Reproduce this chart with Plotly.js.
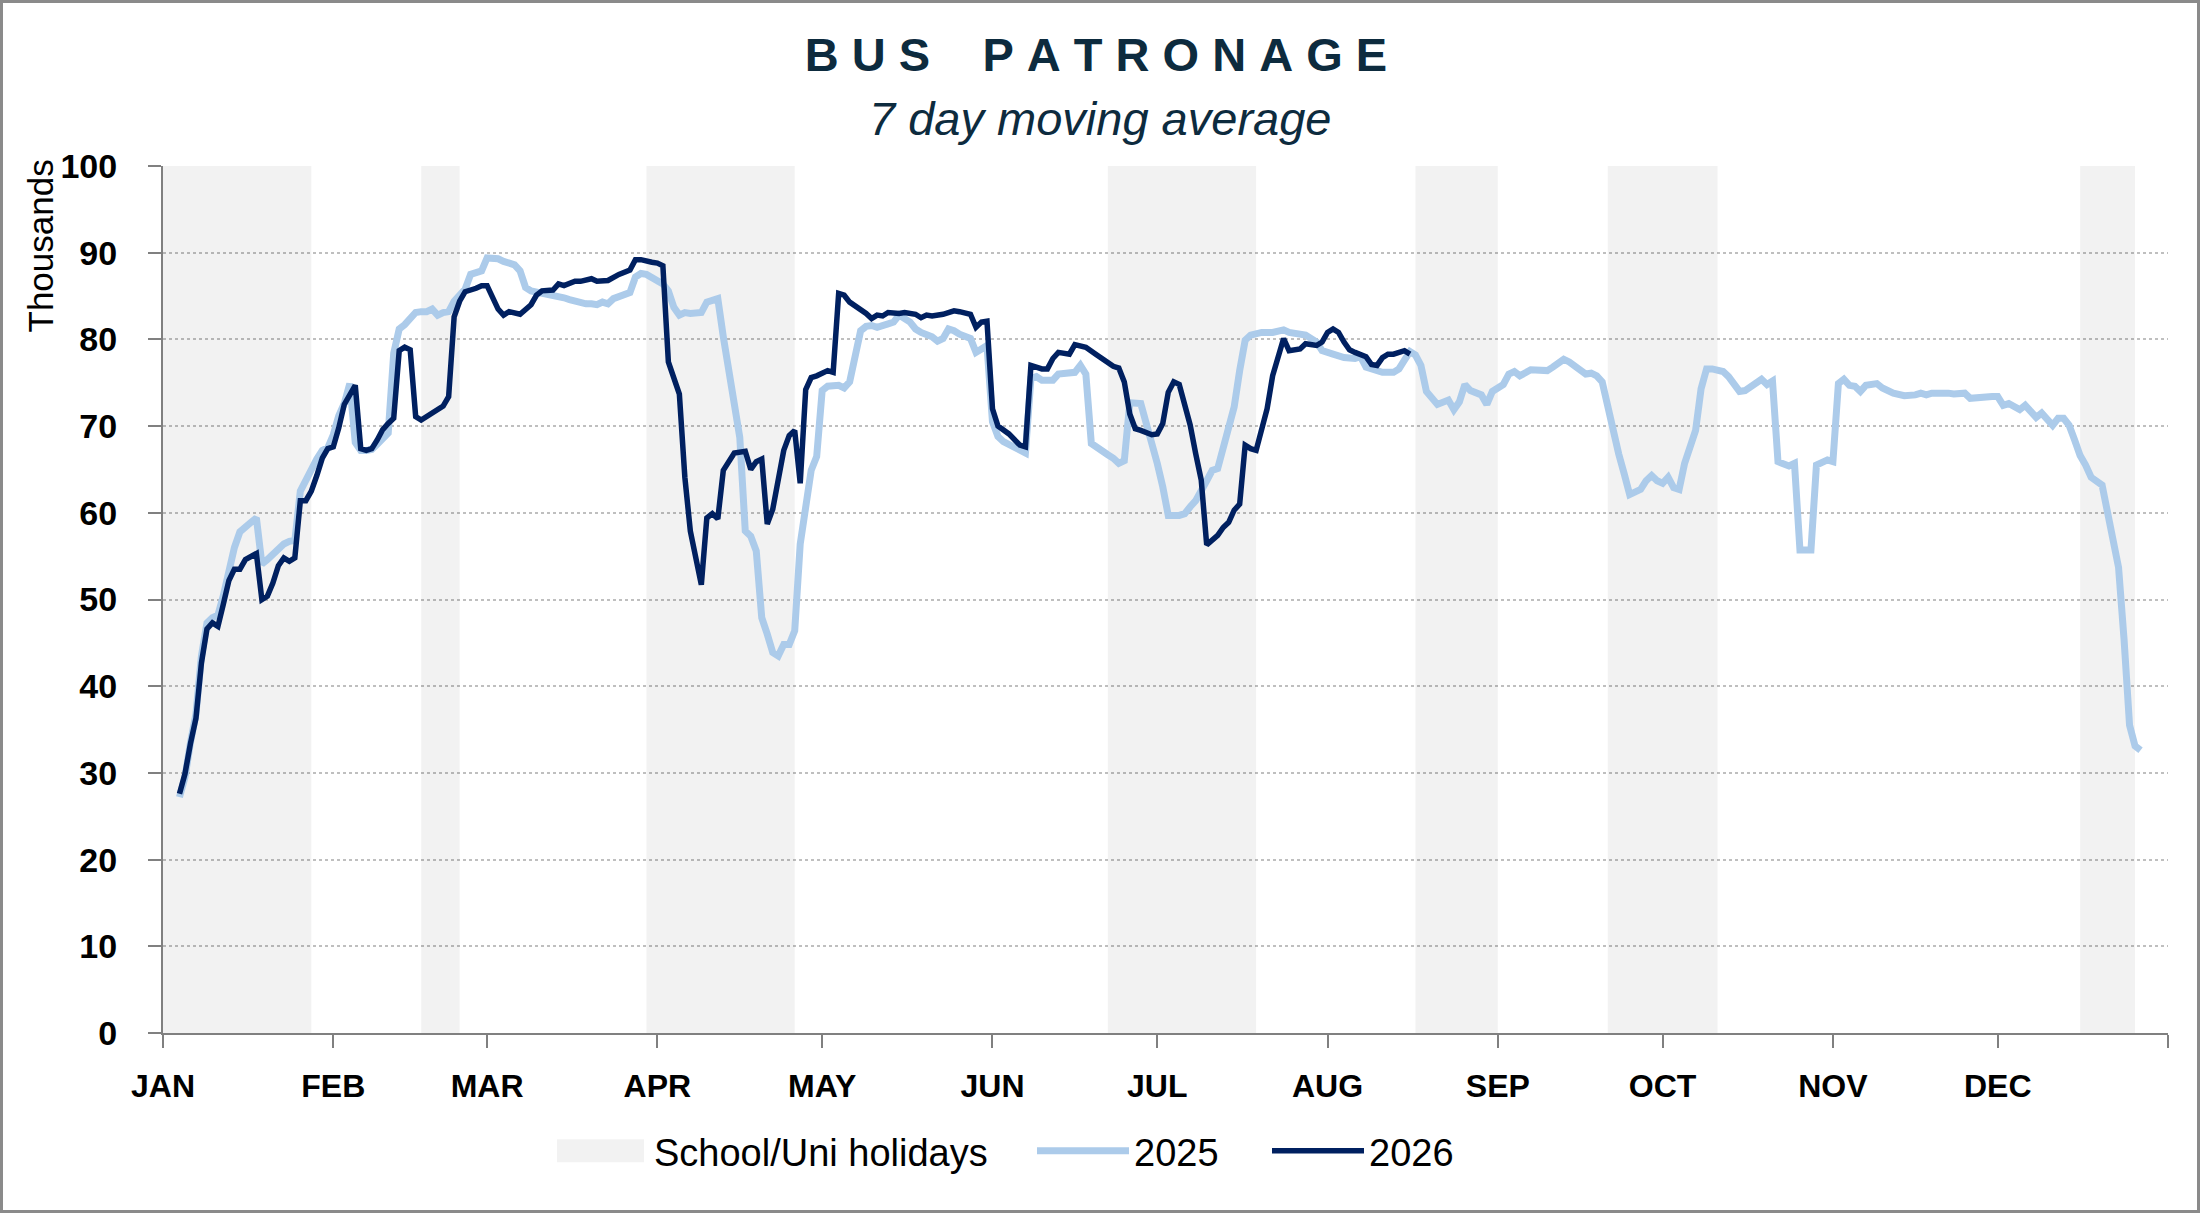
<!DOCTYPE html>
<html>
<head>
<meta charset="utf-8">
<script src="https://cdn.plot.ly/plotly-3.0.1.min.js"></script>
<style>
  html, body { margin: 0; padding: 0; background: #ffffff; }
  #wrap { position: relative; width: 2200px; height: 1213px; }
  #chart { width: 2200px; height: 1213px; }
  #frame { position: absolute; left: 0; top: 0; width: 2200px; height: 1213px;
           box-sizing: border-box; border: 3px solid #8a8a8a; pointer-events: none; }
</style>
</head>
<body>
<div id="wrap"><div id="chart"></div><div id="frame"></div></div>
<script>
// ---- data (day offset from 1 Jan, thousands of passengers, 7-day moving average) ----
const monthLabels = ["JAN","FEB","MAR","APR","MAY","JUN","JUL","AUG","SEP","OCT","NOV","DEC"];
const monthStartDays = [0,31,59,90,120,151,181,212,243,273,304,334,365];

const holidayStartDays = [0, 47, 88, 172, 228, 263, 349];
const holidayEndDays   = [27, 54, 115, 199, 243, 283, 359];

const series2025 = [
 [3,27.2],[4,29.5],[5,33.5],[6,36.8],[7,43.5],[8,47.3],[9,47.9],[10,48.2],[11,50.5],[12,53.5],
 [13,56.0],[14,57.8],[15,58.5],[16,58.9],[17,59.4],[18,54.1],[19,54.6],[20,55.2],[21,55.8],[22,56.4],
 [23,56.7],[24,56.8],[25,62.5],[26,63.8],[27,64.8],[28,66.2],[29,67.2],[30,67.5],[31,69.0],[32,71.2],
 [33,72.6],[34,74.9],[35,68.1],[36,67.2],[37,67.2],[38,67.3],[39,67.9],[40,68.6],[41,69.2],[42,78.4],
 [43,81.2],[44,81.7],[45,82.5],[46,83.1],[47,83.2],[48,83.2],[49,83.5],[50,82.8],[51,83.1],[52,83.2],
 [53,84.4],[54,85.0],[55,85.8],[56,87.5],[57,87.7],[58,87.9],[59,89.4],[60,89.4],[61,89.3],[62,89.0],
 [63,88.8],[64,88.6],[65,87.9],[66,86.0],[67,85.6],[68,85.5],[69,85.3],[70,85.2],[71,85.1],[72,85.0],
 [73,84.8],[74,84.6],[75,84.4],[76,84.2],[77,84.1],[78,84.1],[79,84.0],[80,84.3],[81,84.1],[82,84.7],
 [83,85.0],[84,85.3],[85,85.4],[86,87.2],[87,87.6],[88,87.5],[89,87.2],[90,86.8],[91,86.4],[92,85.6],
 [93,83.7],[94,82.8],[95,83.1],[96,83.0],[97,83.1],[98,83.1],[99,84.3],[100,84.4],[101,84.7],[102,80.3],
 [104,72.9],[105,68.7],[106,57.9],[107,57.3],[108,55.6],[109,47.9],[110,46.0],[111,43.9],[112,43.5],[113,44.8],
 [114,44.8],[115,46.4],[116,56.4],[117,61.0],[118,64.9],[119,66.5],[120,74.1],[121,74.6],[123,74.7],[124,74.4],
 [125,75.1],[127,81.0],[128,81.5],[129,81.6],[130,81.4],[132,81.8],[133,82.0],[134,82.8],[136,82.0],[137,81.2],
 [138,80.8],[140,80.3],[141,79.8],[142,80.1],[143,81.2],[144,81.0],[145,80.6],[147,80.1],[148,78.5],[149,78.9],
 [150,79.3],[151,70.5],[152,68.8],[153,68.2],[154,67.9],[155,67.5],[156,67.2],[157,66.9],[158,75.5],[159,75.7],
 [160,75.3],[162,75.3],[163,76.0],[164,76.0],[166,76.2],[167,77.0],[168,76.0],[169,68.0],[170,67.5],[171,67.0],
 [172,66.7],[173,66.3],[174,65.7],[175,66.0],[176,72.7],[178,72.6],[179,70.5],[180,67.8],[181,65.7],[182,63.0],
 [183,59.7],[185,59.7],[186,59.9],[187,60.7],[188,61.4],[190,63.7],[191,64.9],[192,65.1],[193,67.6],[195,72.2],
 [196,76.4],[197,79.9],[198,80.5],[200,80.8],[202,80.8],[204,81.1],[205,80.8],[208,80.5],[210,79.7],[211,78.7],
 [213,78.3],[215,77.9],[217,77.8],[218,78.0],[219,76.8],[221,76.4],[222,76.2],[224,76.2],[225,76.6],[226,77.6],
 [227,78.6],[228,78.2],[229,77.0],[230,74.0],[231,73.2],[232,72.5],[234,73.0],[235,71.9],[236,72.8],[237,74.8],
 [238,74.1],[240,73.6],[241,72.5],[242,74.0],[244,74.8],[245,76.0],[246,76.3],[247,75.8],[249,76.5],[251,76.5],
 [252,76.4],[253,76.8],[255,77.7],[256,77.4],[257,76.9],[259,76.0],[260,76.1],[261,75.8],[262,75.1],[263,72.1],
 [264,68.9],[265,66.8],[266,64.5],[267,62.1],[269,62.7],[270,63.7],[271,64.3],[272,63.7],[273,63.4],[274,64.1],
 [275,62.9],[276,62.7],[277,65.7],[279,69.5],[280,74.3],[281,76.6],[282,76.6],[284,76.3],[285,75.7],[286,74.8],
 [287,74.0],[288,74.1],[290,74.9],[291,75.4],[292,74.8],[293,75.2],[294,65.9],[296,65.4],[297,65.7],[298,55.7],
 [300,55.7],[301,65.5],[303,66.1],[304,65.9],[305,74.9],[306,75.4],[307,74.7],[308,74.6],[309,74.0],[310,74.7],
 [312,74.9],[313,74.4],[315,73.8],[317,73.5],[319,73.6],[320,73.8],[321,73.6],[322,73.8],[325,73.8],[326,73.7],
 [328,73.8],[329,73.2],[333,73.4],[334,73.4],[335,72.4],[336,72.6],[338,71.9],[339,72.4],[341,71.0],[342,71.5],
 [344,70.1],[345,70.9],[346,70.9],[347,70.1],[348,68.4],[349,66.6],[350,65.5],[351,64.1],[353,63.2],[354,60.2],
 [355,57.3],[356,53.7],[357,45.4],[358,35.5],[359,33.1],[360,32.6]
];

const series2026 = [
 [3,27.6],[4,29.9],[5,33.4],[6,36.3],[7,42.7],[8,46.6],[9,47.3],[10,46.9],[11,49.5],[12,52.2],
 [13,53.5],[14,53.5],[15,54.6],[17,55.3],[18,50.0],[19,50.4],[20,51.9],[21,53.9],[22,54.8],[23,54.4],
 [24,54.8],[25,61.4],[26,61.4],[27,62.5],[28,64.3],[29,66.3],[30,67.4],[31,67.6],[32,69.8],[33,72.5],
 [35,74.7],[36,67.4],[37,67.2],[38,67.4],[39,68.4],[40,69.6],[41,70.3],[42,70.9],[43,78.7],[44,79.1],
 [45,78.8],[46,71.1],[47,70.7],[48,71.1],[49,71.5],[51,72.3],[52,73.4],[53,82.6],[54,84.4],[55,85.5],
 [57,85.9],[58,86.2],[59,86.2],[61,83.5],[62,82.8],[63,83.2],[65,82.9],[67,84.0],[68,85.1],[69,85.6],
 [71,85.7],[72,86.4],[73,86.2],[75,86.7],[76,86.7],[78,87.0],[79,86.7],[81,86.8],[83,87.5],[84,87.7],
 [85,88.0],[86,89.2],[87,89.2],[89,88.9],[90,88.8],[91,88.5],[92,77.4],[94,73.7],[95,64.1],[96,57.9],
 [98,51.7],[99,59.4],[100,59.9],[101,59.3],[102,64.9],[104,66.9],[106,67.1],[107,65.0],[108,65.9],[109,66.2],
 [110,58.7],[111,60.4],[113,67.2],[114,68.9],[115,69.5],[116,63.4],[117,74.2],[118,75.6],[119,75.8],[121,76.4],
 [122,76.2],[123,85.3],[124,85.1],[125,84.3],[126,83.9],[128,83.0],[129,82.4],[130,82.8],[131,82.7],[132,83.1],
 [134,83.0],[135,83.1],[137,82.9],[138,82.5],[139,82.8],[140,82.7],[142,82.9],[144,83.3],[145,83.2],[146,83.0],
 [147,82.9],[148,81.4],[149,82.0],[150,82.1],[151,72.0],[152,70.0],[154,69.1],[156,67.8],[157,67.6],[158,77.0],
 [160,76.6],[161,76.6],[162,77.8],[163,78.5],[165,78.3],[166,79.4],[168,79.1],[170,78.2],[172,77.4],[173,76.9],
 [174,76.7],[175,75.1],[176,71.4],[177,69.7],[178,69.5],[180,69.0],[181,69.1],[182,70.3],[183,73.9],[184,75.1],
 [185,74.8],[187,70.1],[188,66.8],[189,63.8],[190,56.3],[191,56.8],[192,57.4],[193,58.3],[194,58.9],[195,60.3],
 [196,61.0],[197,67.8],[198,67.4],[199,67.2],[201,72.0],[202,75.8],[204,80.1],[205,78.7],[207,78.9],[208,79.5],
 [210,79.3],[211,79.7],[212,80.8],[213,81.2],[214,80.8],[215,79.7],[216,78.8],[217,78.5],[218,78.3],[219,78.0],
 [220,77.1],[221,77.0],[222,77.9],[223,78.3],[224,78.3],[226,78.7],[227,78.3]
];

// ---- helpers ----
const BASE = Date.UTC(2025, 0, 1);
const toDate = d => new Date(BASE + d * 86400000).toISOString().slice(0, 10);

function hasFont(name) {
  const c = document.createElement('canvas').getContext('2d');
  const s = 'JANFEBMARAPR0123456789';
  c.font = '40px monospace';
  const w1 = c.measureText(s).width;
  c.font = '40px "' + name + '", monospace';
  const w2 = c.measureText(s).width;
  return Math.abs(w1 - w2) > 0.5;
}
const narrow = hasFont('Liberation Sans Narrow');
const SANS = 'Liberation Sans, Arial, sans-serif';
const xTickFont = narrow
  ? {family: 'Liberation Sans Narrow, Liberation Sans, sans-serif', size: 38, weight: 'bold', color: '#000000'}
  : {family: SANS, size: 32, weight: 'bold', color: '#000000'};

// holiday bands as filled polygons on the date axis
const hx = [], hy = [];
holidayStartDays.forEach((s, i) => {
  const e = holidayEndDays[i];
  hx.push(toDate(s), toDate(s), toDate(e), toDate(e), toDate(s), null);
  hy.push(0, 100, 100, 0, 0, null);
});

const traces = [
  {
    type: 'scatter', mode: 'none', name: 'School/Uni holidays', legend: 'legend',
    x: hx, y: hy, fill: 'toself', fillcolor: 'rgba(0,0,0,0.05)',
    hoverinfo: 'skip'
  },
  {
    type: 'scatter', mode: 'lines', name: '2025', legend: 'legend2',
    x: series2025.map(p => toDate(p[0])), y: series2025.map(p => p[1]),
    line: {color: '#ACCBEA', width: 7}
  },
  {
    type: 'scatter', mode: 'lines', name: '2026', legend: 'legend3',
    x: series2026.map(p => toDate(p[0])), y: series2026.map(p => p[1]),
    line: {color: '#002060', width: 5.5}
  }
];

const NBSP = '\u00A0';
const spaced = w => w.split('').join(NBSP);
const titleText = spaced('BUS') + NBSP.repeat(4) + spaced('PATRONAGE');

const PX = v => (v - 163) / 2005;          // figure px -> paper x
const PY = v => (1033 - v) / 867;          // figure px -> paper y
const legendBase = {
  orientation: 'h', xanchor: 'left', yanchor: 'middle', y: PY(1151),
  font: {family: SANS, size: 38, color: '#000000'},
  itemwidth: 92, bgcolor: 'rgba(0,0,0,0)', borderwidth: 0
};

const layout = {
  width: 2200, height: 1213,
  margin: {l: 163, r: 32, t: 166, b: 180, pad: 0},
  paper_bgcolor: '#ffffff', plot_bgcolor: 'rgba(0,0,0,0)',
  font: {family: SANS, color: '#000000'},
  title: {
    text: titleText,
    font: {family: SANS, size: 47, weight: 'bold', color: '#0d2b3e'},
    x: 1096 / 2200, xanchor: 'center', xref: 'container',
    y: 1 - 55 / 1213, yanchor: 'middle', yref: 'container'
  },
  xaxis: {
    type: 'date',
    range: [toDate(0), toDate(365)],
    tickmode: 'array',
    tickvals: monthStartDays.map(toDate),
    ticktext: monthLabels.concat(['']),
    ticks: 'outside', ticklen: 13, tickwidth: 2, tickcolor: '#808080',
    showline: true, linecolor: '#808080', linewidth: 2,
    showgrid: false, zeroline: false,
    tickfont: xTickFont,
    ticklabelstandoff: 11,
    fixedrange: true
  },
  yaxis: {
    range: [0, 100], tick0: 0, dtick: 10,
    ticks: 'outside', ticklen: 13, tickwidth: 2, tickcolor: '#808080',
    showline: true, linecolor: '#808080', linewidth: 2,
    showgrid: true, gridcolor: '#bfbfbf', gridwidth: 2, griddash: 'dot',
    zeroline: false,
    tickfont: {family: SANS, size: 34, weight: 'bold', color: '#000000'},
    ticklabelstandoff: 24,
    fixedrange: true
  },
  showlegend: true,
  legend:  Object.assign({}, legendBase, {x: PX(552)}),
  legend2: Object.assign({}, legendBase, {x: PX(1032)}),
  legend3: Object.assign({}, legendBase, {x: PX(1267)}),
  annotations: [
    {
      text: '7 day moving average', showarrow: false,
      xref: 'paper', yref: 'paper',
      x: PX(1100), xanchor: 'center',
      y: PY(119), yanchor: 'middle',
      font: {family: SANS, size: 47, style: 'italic', color: '#0d2b3e'}
    },
    {
      text: 'Thousands', showarrow: false, textangle: -90,
      xref: 'paper', yref: 'paper',
      x: PX(40), xanchor: 'center',
      y: PY(158), yanchor: 'top',
      font: {family: SANS, size: 35, color: '#000000'}
    }
  ]
};

Plotly.newPlot('chart', traces, layout, {displayModeBar: false, staticPlot: true}).then(() => {
  // enlarge the holiday legend swatch to a block like the reference key
  document.querySelectorAll('.legendfill path').forEach(p => {
    p.setAttribute('d', 'M5,-11.5h87v23h-87z');
  });
});
</script>
</body>
</html>
